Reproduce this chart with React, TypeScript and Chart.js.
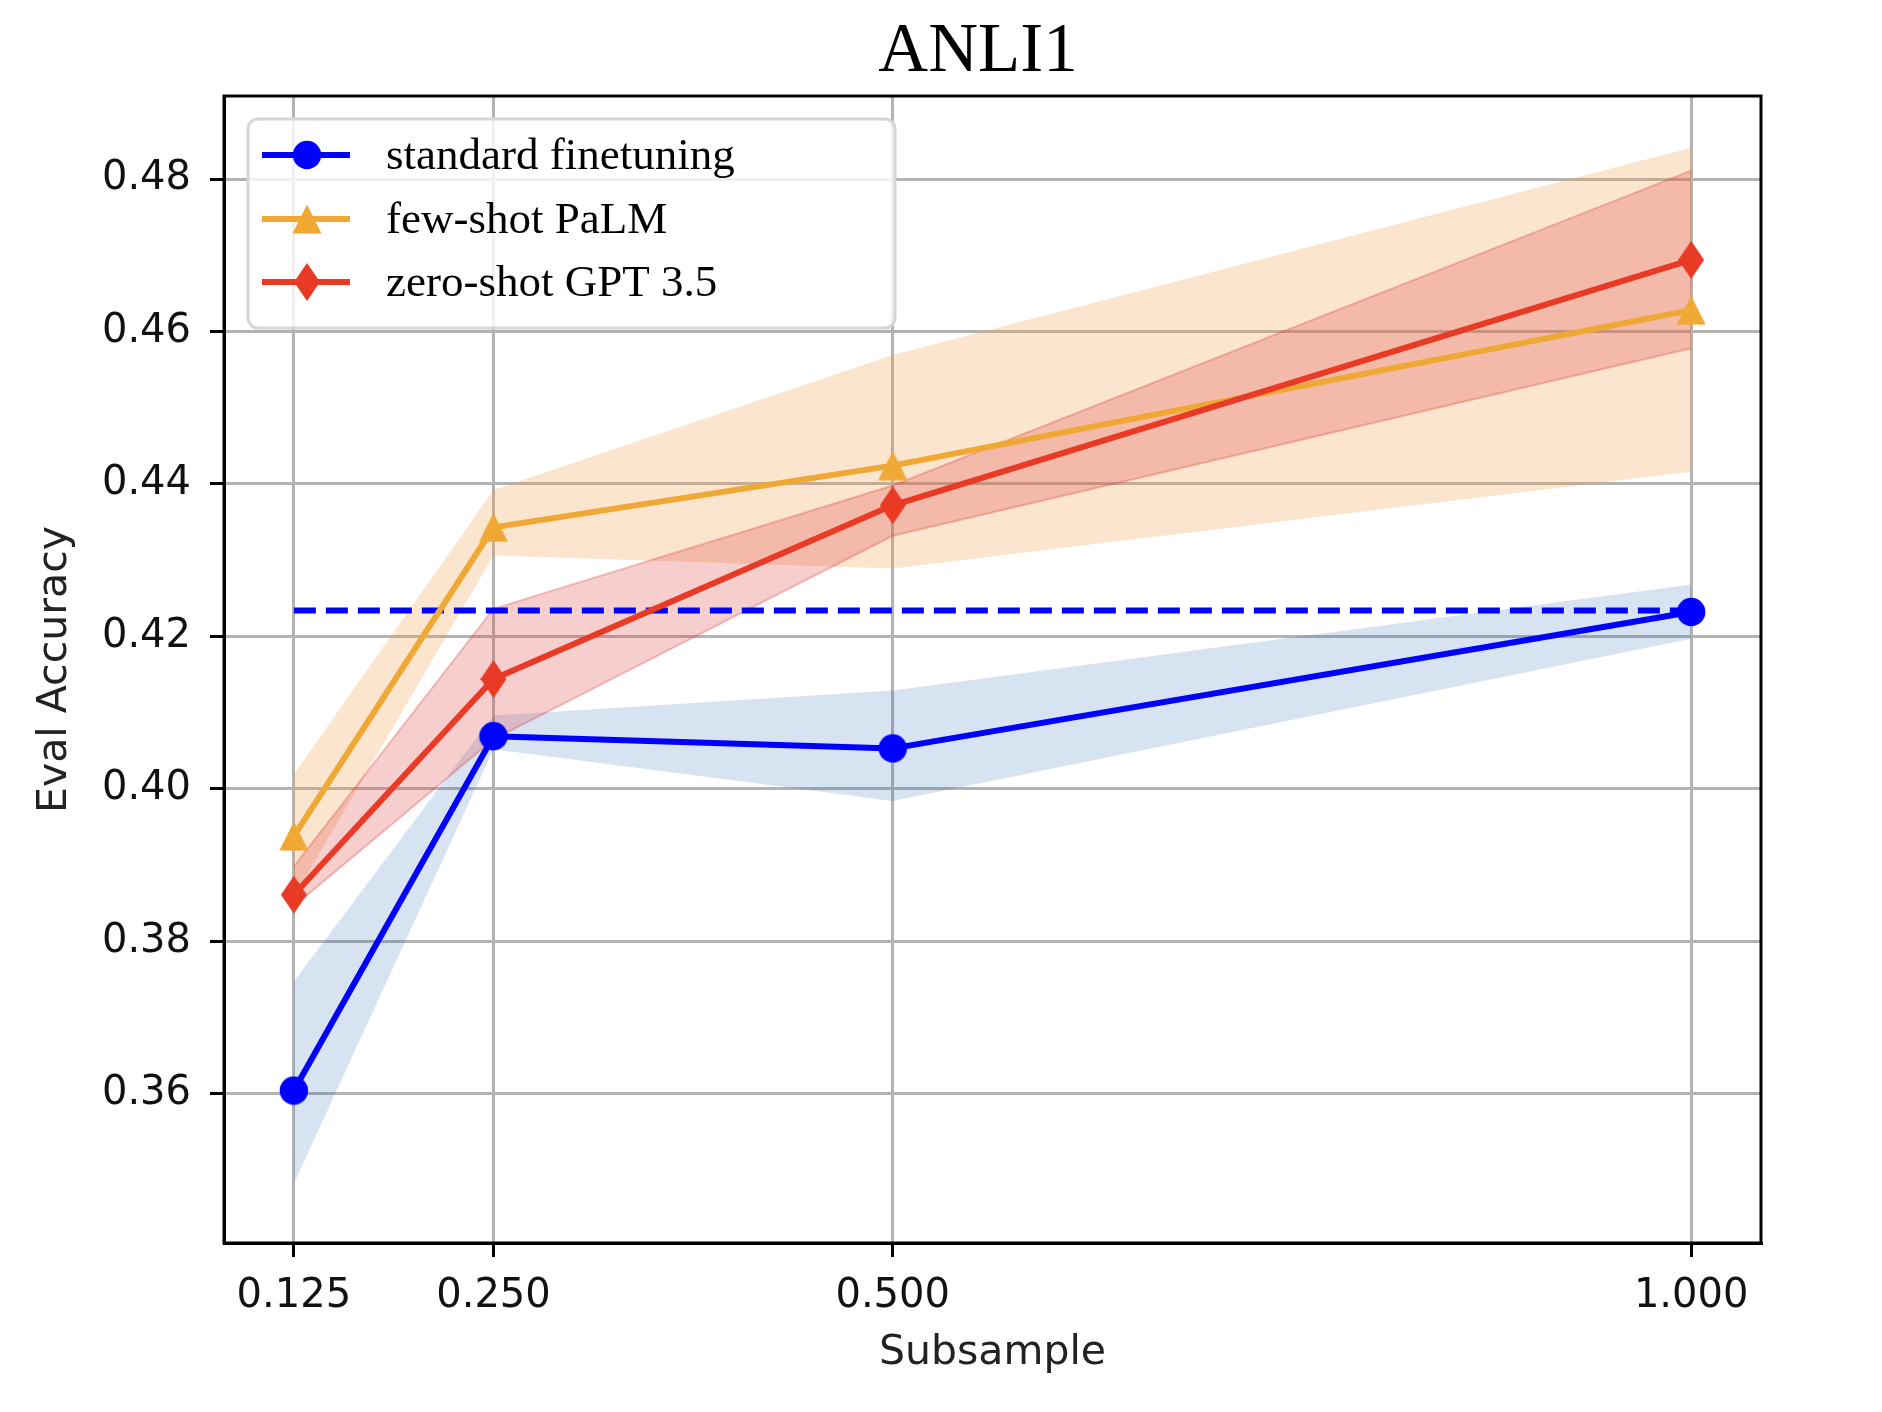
import { useEffect, useRef } from 'react'
import { Chart, registerables } from 'chart.js'

Chart.register(...registerables)

// subsample fractions
const subsamples = [0.125, 0.25, 0.5, 1.0]
const xTicks = [0.125, 0.25, 0.5, 1.0]
const yTicks = [0.36, 0.38, 0.4, 0.42, 0.44, 0.46, 0.48]

const stdMean = [0.3604, 0.4069, 0.4053, 0.4232]
const stdHi = [0.3747, 0.4096, 0.4129, 0.4268]
const stdLo = [0.3482, 0.4052, 0.3984, 0.4197]

const palmMean = [0.3938, 0.4343, 0.4424, 0.4628]
const palmHi = [0.4019, 0.4392, 0.4569, 0.4841]
const palmLo = [0.3858, 0.4306, 0.4289, 0.4416]

const gptMean = [0.3861, 0.4144, 0.4372, 0.4694]
const gptHi = [0.3898, 0.4236, 0.4398, 0.4811]
const gptLo = [0.3846, 0.4065, 0.4332, 0.4578]

// full-data finetuning reference (dashed)
const fullDataLevel = 0.4234
const fullDataSpan = [0.125, 1.0]

const legendLabels = ['standard finetuning', 'few-shot PaLM', 'zero-shot GPT 3.5']

const BLUE = '#0000ff'
const ORANGE = '#efa834'
const RED = '#e83a25'

const W = 1882
const H = 1412
const AREA_BOTTOM = 1243
const SERIF = '"Liberation Serif", "Times New Roman", serif'
const SANS = '"DejaVu Sans", sans-serif'

function pts(ys: number[]) {
  return ys.map((y, i) => ({ x: subsamples[i], y }))
}

function makeMarker(kind: 'circle' | 'triangle' | 'diamond', color: string): HTMLCanvasElement {
  const c = document.createElement('canvas')
  const w = kind === 'diamond' ? 26 : 30
  const h = kind === 'diamond' ? 38 : 30
  c.width = w
  c.height = h
  const g = c.getContext('2d')!
  g.fillStyle = color
  g.beginPath()
  if (kind === 'circle') {
    g.arc(w / 2, h / 2, 14.2, 0, Math.PI * 2)
  } else if (kind === 'triangle') {
    g.moveTo(w / 2, 0.5)
    g.lineTo(w - 0.5, h - 0.5)
    g.lineTo(0.5, h - 0.5)
    g.closePath()
  } else {
    g.moveTo(w / 2, 0)
    g.lineTo(w, h / 2)
    g.lineTo(w / 2, h)
    g.lineTo(0, h / 2)
    g.closePath()
  }
  g.fill()
  return c
}

export default function App() {
  const canvasRef = useRef<HTMLCanvasElement>(null)

  useEffect(() => {
    if (!canvasRef.current) return
    document.body.style.margin = '0'

    const mCircle = makeMarker('circle', BLUE)
    const mTri = makeMarker('triangle', ORANGE)
    const mDia = makeMarker('diamond', RED)
    const markers = [mCircle, mTri, mDia]
    const colors = [BLUE, ORANGE, RED]

    const decorations = {
      id: 'decorations',
      afterDatasetsDraw(chart: Chart) {
        const { ctx, chartArea: a } = chart
        ctx.save()
        ctx.strokeStyle = '#000'
        ctx.lineWidth = 3
        ctx.strokeRect(a.left, a.top, a.right - a.left, a.bottom - a.top)
        ctx.restore()
      },
      afterDraw(chart: Chart) {
        const { ctx, chartArea: a } = chart
        ctx.save()
        // title
        ctx.fillStyle = '#000'
        ctx.font = `69px ${SERIF}`
        ctx.textAlign = 'center'
        ctx.textBaseline = 'alphabetic'
        ctx.fillText('ANLI1', 978, 71)
        // axis labels
        ctx.font = `41px ${SANS}`
        ctx.fillStyle = '#222'
        ctx.fillText('Subsample', (a.left + a.right) / 2, 1364)
        ctx.save()
        ctx.translate(55, (a.top + a.bottom) / 2)
        ctx.rotate(-Math.PI / 2)
        ctx.textBaseline = 'middle'
        ctx.fillText('Eval Accuracy', 0, 0)
        ctx.restore()

        // legend
        const bx = 248, by = 119, bw = 655 - 8, bh = 209, r = 10
        ctx.beginPath()
        ctx.moveTo(bx + r, by)
        ctx.arcTo(bx + bw, by, bx + bw, by + bh, r)
        ctx.arcTo(bx + bw, by + bh, bx, by + bh, r)
        ctx.arcTo(bx, by + bh, bx, by, r)
        ctx.arcTo(bx, by, bx + bw, by, r)
        ctx.closePath()
        ctx.fillStyle = 'rgba(255,255,255,0.8)'
        ctx.fill()
        ctx.strokeStyle = '#d6d6d6'
        ctx.lineWidth = 3
        ctx.stroke()

        const rows = [155, 219, 282]
        legendLabels.forEach((label, i) => {
          const y = rows[i]
          ctx.strokeStyle = colors[i]
          ctx.lineWidth = 6
          ctx.lineCap = 'butt'
          ctx.beginPath()
          ctx.moveTo(262, y)
          ctx.lineTo(350, y)
          ctx.stroke()
          const m = markers[i]
          ctx.drawImage(m, 307 - m.width / 2, y - m.height / 2)
          ctx.fillStyle = '#000'
          ctx.font = `45px ${SERIF}`
          ctx.textAlign = 'left'
          ctx.textBaseline = 'middle'
          ctx.fillText(label, 386, y + 2)
        })
        ctx.restore()
      },
    }

    const band = (hi: number[], lo: number[], fillColor: string, edge: string, order: number) => [
      {
        data: pts(hi),
        borderColor: edge,
        borderWidth: 2,
        backgroundColor: fillColor,
        fill: '+1',
        pointRadius: 0,
        tension: 0,
        order,
      },
      {
        data: pts(lo),
        borderColor: edge,
        borderWidth: 2,
        backgroundColor: 'transparent',
        fill: false,
        pointRadius: 0,
        tension: 0,
        order,
      },
    ]

    const line = (ys: number[], color: string, marker: HTMLCanvasElement, order: number) => ({
      data: pts(ys),
      borderColor: color,
      backgroundColor: color,
      borderWidth: 6,
      borderJoinStyle: 'round' as const,
      pointStyle: marker,
      pointRadius: 14,
      fill: false,
      tension: 0,
      order,
    })

    const chart = new Chart(canvasRef.current, {
      type: 'line',
      data: {
        datasets: [
          ...band(stdHi, stdLo, 'rgba(31,100,180,0.18)', 'transparent', 12),
          ...band(palmHi, palmLo, 'rgba(240,150,60,0.25)', 'transparent', 11),
          ...band(gptHi, gptLo, 'rgba(220,60,60,0.25)', 'rgba(220,60,60,0.3)', 10),
          {
            data: fullDataSpan.map(x => ({ x, y: fullDataLevel })),
            borderColor: BLUE,
            borderWidth: 6,
            borderDash: [22, 10],
            pointRadius: 0,
            fill: false,
            order: 4,
          },
          line(stdMean, BLUE, mCircle, 3),
          line(palmMean, ORANGE, mTri, 2),
          line(gptMean, RED, mDia, 1),
        ] as any,
      },
      options: {
        responsive: false,
        animation: false,
        events: [],
        layout: { padding: { top: 96, right: 121, left: 0, bottom: 0 } },
        plugins: {
          legend: { display: false },
          title: { display: false },
          tooltip: { enabled: false },
          filler: { drawTime: 'beforeDatasetsDraw' },
        },
        scales: {
          x: {
            type: 'linear',
            min: 0.08125,
            max: 1.04375,
            afterFit: (s: any) => { s.height = H - AREA_BOTTOM },
            afterBuildTicks: (s: any) => { s.ticks = xTicks.map(v => ({ value: v })) },
            ticks: {
              callback: (v: any) => Number(v).toFixed(3),
              color: '#111',
              font: { family: SANS, size: 40 },
              padding: 16,
              maxRotation: 0,
              autoSkip: false,
            },
            grid: { color: '#b3b3b3', lineWidth: 3, tickColor: '#000', tickLength: 14, tickWidth: 3 },
            border: { display: true, color: '#000', width: 3 },
          },
          y: {
            type: 'linear',
            min: 0.3404,
            max: 0.4909,
            afterFit: (s: any) => { s.width = 224 },
            afterBuildTicks: (s: any) => { s.ticks = yTicks.map(v => ({ value: v })) },
            ticks: {
              callback: (v: any) => Number(v).toFixed(2),
              color: '#111',
              font: { family: SANS, size: 40 },
              padding: 19,
              autoSkip: false,
            },
            grid: { color: '#b3b3b3', lineWidth: 3, tickColor: '#000', tickLength: 14, tickWidth: 3 },
            border: { display: true, color: '#000', width: 3 },
          },
        },
      },
      plugins: [decorations],
    })

    return () => {
      chart.destroy()
    }
  }, [])

  return (
    <div style={{ position: 'absolute', left: 0, top: 0, width: W, height: H, background: '#fff' }}>
      <canvas ref={canvasRef} width={W} height={H} style={{ width: W, height: H, display: 'block' }} />
    </div>
  )
}
